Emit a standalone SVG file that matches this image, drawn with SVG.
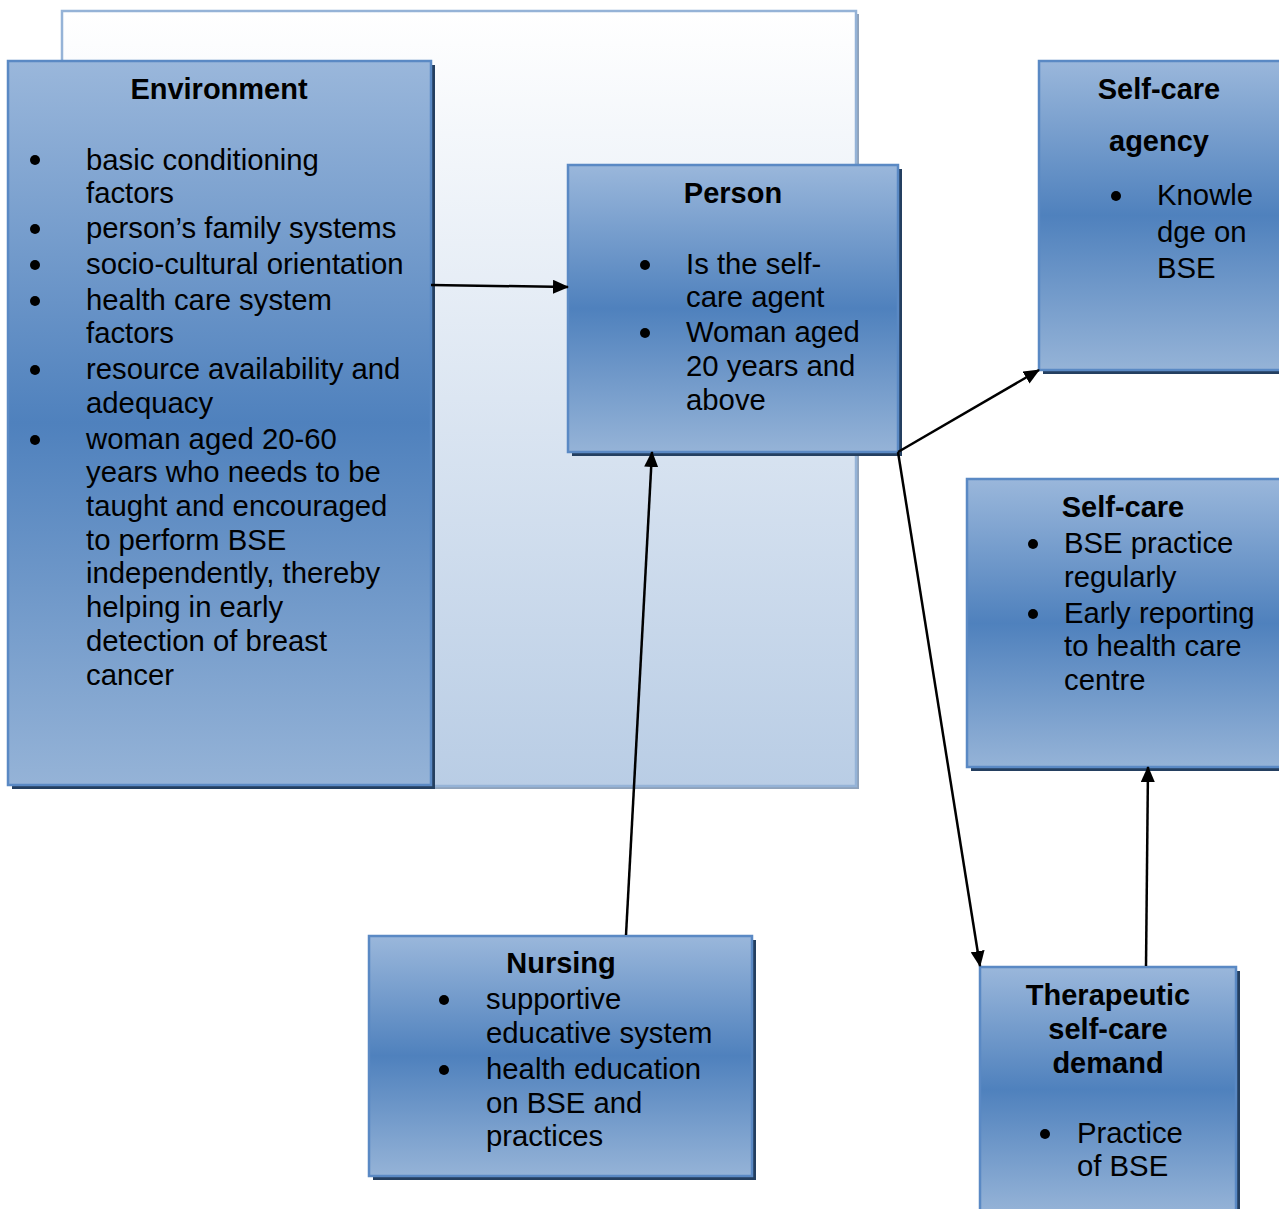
<svg xmlns="http://www.w3.org/2000/svg" width="1279" height="1209" viewBox="0 0 1279 1209">
<defs>
<linearGradient id="box" x1="0" y1="0" x2="0" y2="1">
<stop offset="0" stop-color="#9ab7db"/>
<stop offset="0.5" stop-color="#4f81bd"/>
<stop offset="1" stop-color="#95b3d7"/>
</linearGradient>
<linearGradient id="bg" x1="0" y1="0" x2="0" y2="1">
<stop offset="0" stop-color="#ffffff"/>
<stop offset="1" stop-color="#b9cde5"/>
</linearGradient>
<marker id="arr" markerWidth="16" markerHeight="14" refX="15" refY="7" orient="auto" markerUnits="userSpaceOnUse">
<path d="M0,0 L16,7 L0,14 Z" fill="#000"/>
</marker>
<style>
.box{fill:url(#box);stroke:#5a89c4;stroke-width:2.5}
.sh{fill:#243f60}
.t{font-family:"Liberation Sans",Arial,sans-serif;font-size:29.3px;fill:#000}
.b{font-family:"Liberation Sans",Arial,sans-serif;font-size:29px;font-weight:bold;fill:#000}
.c{text-anchor:middle}
.dot{fill:#000}
.con{stroke:#000;stroke-width:2.5;fill:none;marker-end:url(#arr)}
</style>
</defs>
<rect width="1279" height="1209" fill="#fff"/>
<g id="background">
<rect x="65" y="14" width="794" height="775" fill="#8fa2ba"/>
<rect x="62" y="11" width="794" height="775" fill="url(#bg)" stroke="#95b3d7" stroke-width="2.5"/>
</g>
<g id="environment">
<rect class="sh" x="12" y="65" width="423" height="724"/>
<rect class="box" x="8" y="61" width="423" height="724"/>
<text class="b c" x="219" y="99">Environment</text>
<circle class="dot" cx="35" cy="160" r="5"/>
<circle class="dot" cx="35" cy="229" r="5"/>
<circle class="dot" cx="35" cy="265" r="5"/>
<circle class="dot" cx="35" cy="301" r="5"/>
<circle class="dot" cx="35" cy="370" r="5"/>
<circle class="dot" cx="35" cy="440" r="5"/>
<text class="t" x="86" y="170">basic conditioning</text>
<text class="t" x="86" y="203">factors</text>
<text class="t" x="86" y="238">person’s family systems</text>
<text class="t" x="86" y="274">socio-cultural orientation</text>
<text class="t" x="86" y="310">health care system</text>
<text class="t" x="86" y="343">factors</text>
<text class="t" x="86" y="379">resource availability and</text>
<text class="t" x="86" y="413">adequacy</text>
<text class="t" x="86" y="449">woman aged 20-60</text>
<text class="t" x="86" y="482">years who needs to be</text>
<text class="t" x="86" y="516">taught and encouraged</text>
<text class="t" x="86" y="550">to perform BSE</text>
<text class="t" x="86" y="583">independently, thereby</text>
<text class="t" x="86" y="617">helping in early</text>
<text class="t" x="86" y="651">detection of breast</text>
<text class="t" x="86" y="685">cancer</text>
</g>
<g id="person">
<rect class="sh" x="572" y="169" width="330" height="287"/>
<rect class="box" x="568" y="165" width="330" height="287"/>
<text class="b c" x="733" y="203">Person</text>
<circle class="dot" cx="645" cy="265" r="5"/>
<circle class="dot" cx="645" cy="333" r="5"/>
<text class="t" x="686" y="274">Is the self-</text>
<text class="t" x="686" y="307">care agent</text>
<text class="t" x="686" y="342">Woman aged</text>
<text class="t" x="686" y="376">20 years and</text>
<text class="t" x="686" y="410">above</text>
</g>
<g id="self-care-agency">
<rect class="sh" x="1043" y="65" width="240" height="309"/>
<rect class="box" x="1039" y="61" width="245" height="309"/>
<text class="b c" x="1159" y="99">Self-care</text>
<text class="b c" x="1159" y="151">agency</text>
<circle class="dot" cx="1116" cy="196" r="5"/>
<text class="t" x="1157" y="205">Knowle</text>
<text class="t" x="1157" y="242">dge on</text>
<text class="t" x="1157" y="278">BSE</text>
</g>
<g id="self-care">
<rect class="sh" x="971" y="483" width="312" height="288"/>
<rect class="box" x="967" y="479" width="317" height="288"/>
<text class="b c" x="1123" y="517">Self-care</text>
<circle class="dot" cx="1033" cy="544" r="5"/>
<circle class="dot" cx="1033" cy="614" r="5"/>
<text class="t" x="1064" y="553">BSE practice</text>
<text class="t" x="1064" y="587">regularly</text>
<text class="t" x="1064" y="623">Early reporting</text>
<text class="t" x="1064" y="656">to health care</text>
<text class="t" x="1064" y="690">centre</text>
</g>
<g id="nursing">
<rect class="sh" x="373" y="940" width="383" height="240"/>
<rect class="box" x="369" y="936" width="383" height="240"/>
<text class="b c" x="561" y="973">Nursing</text>
<circle class="dot" cx="444" cy="1000" r="5"/>
<circle class="dot" cx="444" cy="1070" r="5"/>
<text class="t" x="486" y="1009">supportive</text>
<text class="t" x="486" y="1043">educative system</text>
<text class="t" x="486" y="1079">health education</text>
<text class="t" x="486" y="1113">on BSE and</text>
<text class="t" x="486" y="1146">practices</text>
</g>
<g id="therapeutic-self-care-demand">
<rect class="sh" x="984" y="971" width="256" height="242"/>
<rect class="box" x="980" y="967" width="256" height="245"/>
<text class="b c" x="1108" y="1005">Therapeutic</text>
<text class="b c" x="1108" y="1039">self-care</text>
<text class="b c" x="1108" y="1073">demand</text>
<circle class="dot" cx="1045" cy="1134" r="5"/>
<text class="t" x="1077" y="1143">Practice</text>
<text class="t" x="1077" y="1176">of BSE</text>
</g>
<g id="connectors">
<line class="con" x1="431" y1="285" x2="568" y2="287"/>
<line class="con" x1="898" y1="452" x2="1039" y2="370"/>
<line class="con" x1="898" y1="452" x2="980" y2="966"/>
<line class="con" x1="626" y1="935" x2="652" y2="452"/>
<line class="con" x1="1146" y1="966" x2="1148" y2="767"/>
</g>
</svg>
